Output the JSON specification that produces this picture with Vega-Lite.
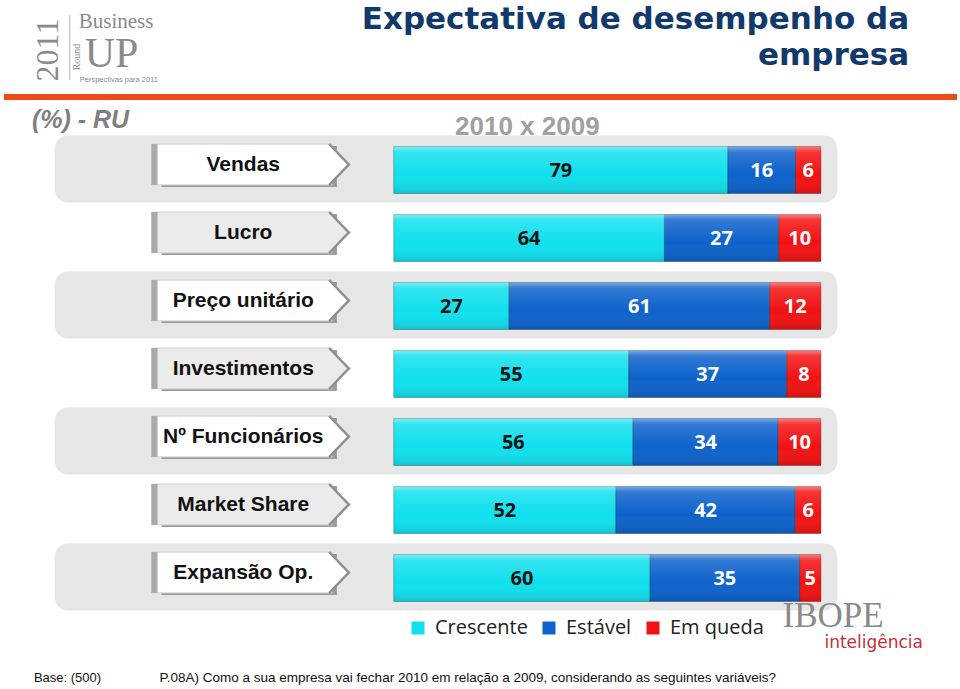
{
  "$schema": "https://vega.github.io/schema/vega-lite/v6.json",
  "width": 960,
  "height": 689,
  "autosize": {"type": "fit", "contains": "padding"},
  "padding": 0,
  "background": "white",
  "config": {"view": {"stroke": null}},
  "datasets": {
    "cats": [
      {"cat": "Vendas"}, {"cat": "Lucro"}, {"cat": "Preço unitário"}, {"cat": "Investimentos"},
      {"cat": "Nº Funcionários"}, {"cat": "Market Share"}, {"cat": "Expansão Op."}
    ],
    "vals": [
      {"cat": "Vendas", "status": "Crescente", "value": 79},
      {"cat": "Vendas", "status": "Estável", "value": 16},
      {"cat": "Vendas", "status": "Em queda", "value": 6},
      {"cat": "Lucro", "status": "Crescente", "value": 64},
      {"cat": "Lucro", "status": "Estável", "value": 27},
      {"cat": "Lucro", "status": "Em queda", "value": 10},
      {"cat": "Preço unitário", "status": "Crescente", "value": 27},
      {"cat": "Preço unitário", "status": "Estável", "value": 61},
      {"cat": "Preço unitário", "status": "Em queda", "value": 12},
      {"cat": "Investimentos", "status": "Crescente", "value": 55},
      {"cat": "Investimentos", "status": "Estável", "value": 37},
      {"cat": "Investimentos", "status": "Em queda", "value": 8},
      {"cat": "Nº Funcionários", "status": "Crescente", "value": 56},
      {"cat": "Nº Funcionários", "status": "Estável", "value": 34},
      {"cat": "Nº Funcionários", "status": "Em queda", "value": 10},
      {"cat": "Market Share", "status": "Crescente", "value": 52},
      {"cat": "Market Share", "status": "Estável", "value": 42},
      {"cat": "Market Share", "status": "Em queda", "value": 6},
      {"cat": "Expansão Op.", "status": "Crescente", "value": 60},
      {"cat": "Expansão Op.", "status": "Estável", "value": 35},
      {"cat": "Expansão Op.", "status": "Em queda", "value": 5}
    ]
  },
  "resolve": {"scale": {"y": "independent"}},
  "layer": [
    {
      "layer": [
        {
          "data": {"name": "cats"},
          "transform": [{"filter": {"field": "cat", "oneOf": ["Vendas", "Preço unitário", "Nº Funcionários", "Expansão Op."]}}],
          "mark": {"type": "bar", "cornerRadius": 13, "fill": "#e6e6e6", "height": {"band": 0.985}},
          "encoding": {
            "y": {"field": "cat", "type": "nominal", "axis": null, "scale": {"domain": ["Vendas", "Lucro", "Preço unitário", "Investimentos", "Nº Funcionários", "Market Share", "Expansão Op."], "paddingInner": 0, "paddingOuter": 0, "range": [135, 611]}},
            "x": {"datum": -0.79346, "type": "quantitative", "axis": null, "scale": {"domain": [-0.91715, 1.32322], "nice": false, "zero": false}},
            "x2": {"datum": 1.0385}
          }
        },
        {
          "data": {"name": "cats"},
          "mark": {"type": "bar", "fill": "#9c9c9c", "height": {"band": 0.6}, "yOffset": -2.5},
          "encoding": {
            "y": {"field": "cat", "type": "nominal", "axis": null},
            "x": {"datum": -0.54376, "type": "quantitative", "axis": null},
            "x2": {"datum": -0.13302}
          }
        },
        {
          "data": {"name": "cats"},
          "mark": {"type": "bar", "height": {"band": 0.6}, "yOffset": -4.5, "stroke": "#d0d0d0", "strokeWidth": 1},
          "encoding": {
            "y": {"field": "cat", "type": "nominal", "axis": null},
            "x": {"datum": -0.56709, "type": "quantitative", "axis": null},
            "x2": {"datum": -0.14469},
            "color": {"condition": {"test": "datum.cat === 'Lucro' || datum.cat === 'Investimentos' || datum.cat === 'Market Share'", "value": "#ebebeb"}, "value": "#ffffff"}
          }
        },
        {
          "data": {"name": "cats"},
          "mark": {"type": "bar", "fill": "#a9a9a9", "height": {"band": 0.6}, "yOffset": -4.5},
          "encoding": {
            "y": {"field": "cat", "type": "nominal", "axis": null},
            "x": {"datum": -0.56709, "type": "quantitative", "axis": null},
            "x2": {"datum": -0.55309}
          }
        },
        {
          "data": {"name": "cats"},
          "mark": {"type": "point", "shape": "M-0.48,-1L0.48,0L-0.48,1Z", "size": 1681, "filled": true, "opacity": 1, "strokeWidth": 0, "yOffset": -4.5},
          "encoding": {
            "y": {"field": "cat", "type": "nominal", "axis": null},
            "x": {"datum": -0.12836, "type": "quantitative", "axis": null},
            "color": {"condition": {"test": "datum.cat === 'Lucro' || datum.cat === 'Investimentos' || datum.cat === 'Market Share'", "value": "#ebebeb"}, "value": "#ffffff"}
          }
        },
        {
          "data": {"name": "cats"},
          "mark": {"type": "point", "shape": "M-0.48,-1L0.48,0L-0.48,1", "size": 1681, "filled": false, "opacity": 1, "stroke": "#8e8e8e", "strokeWidth": 2.5, "yOffset": -4.5},
          "encoding": {
            "y": {"field": "cat", "type": "nominal", "axis": null},
            "x": {"datum": -0.12836, "type": "quantitative", "axis": null}
          }
        },
        {
          "data": {"name": "cats"},
          "mark": {"type": "text", "font": "Liberation Sans", "fontWeight": "bold", "fontSize": 21, "fill": "#111111", "align": "center", "baseline": "middle", "yOffset": -4.5},
          "encoding": {
            "y": {"field": "cat", "type": "nominal", "axis": null},
            "x": {"datum": -0.35239, "type": "quantitative", "axis": null},
            "text": {"field": "cat"}
          }
        },
        {
          "data": {"name": "vals"},
          "transform": [
            {"calculate": "indexof(['Crescente','Estável','Em queda'], datum.status)", "as": "ord"},
            {"stack": "value", "groupby": ["cat"], "sort": [{"field": "ord", "order": "ascending"}], "offset": "normalize", "as": ["x0", "x1"]}
          ],
          "mark": {"type": "bar", "height": {"band": 0.69}, "yOffset": 1, "stroke": "rgba(0,0,0,0.35)", "strokeWidth": 0.8},
          "encoding": {
            "y": {"field": "cat", "type": "nominal", "axis": null},
            "x": {"field": "x0", "type": "quantitative", "axis": null},
            "x2": {"field": "x1"},
            "color": {
              "field": "status", "type": "nominal",
              "scale": {"domain": ["Crescente", "Estável", "Em queda"], "range": ["#10e0ee", "#0d62cb", "#f21212"]},
              "legend": {"orient": "none", "legendX": 406, "legendY": 618, "direction": "horizontal", "title": null, "symbolType": "square", "symbolSize": 169, "symbolStrokeWidth": 0, "symbolOpacity": 1, "labelFont": "Open Sans", "labelFontSize": 20, "labelColor": "#222222", "labelOffset": 7, "columnPadding": 11, "padding": 0}
            }
          }
        },
        {
          "data": {"name": "cats"},
          "mark": {"type": "bar", "height": {"band": 0.69}, "yOffset": 1, "fill": {"gradient": "linear", "x1": 0, "y1": 0, "x2": 0, "y2": 1, "stops": [{"offset": 0, "color": "rgba(255,255,255,0.45)"}, {"offset": 0.12, "color": "rgba(255,255,255,0.15)"}, {"offset": 0.6, "color": "rgba(255,255,255,0)"}, {"offset": 1, "color": "rgba(0,0,0,0.12)"}]}},
          "encoding": {
            "y": {"field": "cat", "type": "nominal", "axis": null},
            "x": {"datum": 0, "type": "quantitative", "axis": null},
            "x2": {"datum": 1}
          }
        },
        {
          "data": {"name": "vals"},
          "transform": [
            {"calculate": "indexof(['Crescente','Estável','Em queda'], datum.status)", "as": "ord"},
            {"stack": "value", "groupby": ["cat"], "sort": [{"field": "ord", "order": "ascending"}], "offset": "normalize", "as": ["x0", "x1"]},
            {"calculate": "(datum.x0 + datum.x1) / 2", "as": "mid"}
          ],
          "mark": {"type": "text", "font": "Open Sans", "fontWeight": "bold", "fontSize": 20, "align": "center", "baseline": "middle", "yOffset": 2},
          "encoding": {
            "y": {"field": "cat", "type": "nominal", "axis": null},
            "x": {"field": "mid", "type": "quantitative", "axis": null},
            "text": {"field": "value"},
            "color": {"condition": {"test": "datum.status === 'Crescente'", "value": "#111111"}, "value": "#ffffff"}
          }
        }
      ]
    },
    {
      "layer": [
        {
          "data": {"values": [{}]},
          "mark": {"type": "rule", "stroke": "#ee4a15", "strokeWidth": 6},
          "encoding": {
            "x": {"datum": -0.91249, "type": "quantitative", "axis": null},
            "x2": {"datum": 1.31855},
            "y": {"datum": -1.05882, "type": "quantitative", "axis": null, "scale": {"domain": [-2.4853, 7.6471], "reverse": true, "nice": false, "zero": false}}
          }
        },
        {
          "data": {"values": [{}]},
          "mark": {"type": "text", "text": ["Expectativa de desempenho da", "empresa"], "font": "DejaVu Sans", "fontWeight": "bold", "fontSize": 31, "lineHeight": 36, "fill": "#12396b", "align": "right", "baseline": "alphabetic"},
          "encoding": {
            "x": {"datum": 1.20653, "type": "quantitative", "axis": null},
            "y": {"datum": -2.05882, "type": "quantitative", "axis": null, "scale": {"domain": [-2.4853, 7.6471], "reverse": true, "nice": false, "zero": false}}
          }
        },
        {
          "data": {"values": [{}]},
          "mark": {"type": "text", "text": "(%) - RU", "font": "Liberation Sans", "fontWeight": "bold", "fontStyle": "italic", "fontSize": 25, "fill": "#7f7f7f", "align": "left", "baseline": "alphabetic"},
          "encoding": {
            "x": {"datum": -0.84714, "type": "quantitative", "axis": null},
            "y": {"datum": -0.60294, "type": "quantitative", "axis": null, "scale": {"domain": [-2.4853, 7.6471], "reverse": true, "nice": false, "zero": false}}
          }
        },
        {
          "data": {"values": [{}]},
          "mark": {"type": "text", "text": "2010 x 2009", "font": "Liberation Sans", "fontWeight": "bold", "fontSize": 26, "fill": "#a0a0a0", "align": "center", "baseline": "alphabetic"},
          "encoding": {
            "x": {"datum": 0.31272, "type": "quantitative", "axis": null},
            "y": {"datum": -0.5, "type": "quantitative", "axis": null, "scale": {"domain": [-2.4853, 7.6471], "reverse": true, "nice": false, "zero": false}}
          }
        },
        {
          "data": {"values": [{}]},
          "mark": {"type": "text", "text": "Base: (500)", "font": "Liberation Sans", "fontSize": 13, "fill": "#111111", "align": "left", "baseline": "alphabetic"},
          "encoding": {
            "x": {"datum": -0.84247, "type": "quantitative", "axis": null},
            "y": {"datum": 7.54412, "type": "quantitative", "axis": null, "scale": {"domain": [-2.4853, 7.6471], "reverse": true, "nice": false, "zero": false}}
          }
        },
        {
          "data": {"values": [{}]},
          "mark": {"type": "text", "text": "P.08A) Como a sua empresa vai fechar 2010 em relação a 2009, considerando as seguintes variáveis?", "font": "Liberation Sans", "fontSize": 13.5, "fill": "#111111", "align": "left", "baseline": "alphabetic"},
          "encoding": {
            "x": {"datum": -0.54842, "type": "quantitative", "axis": null},
            "y": {"datum": 7.54412, "type": "quantitative", "axis": null, "scale": {"domain": [-2.4853, 7.6471], "reverse": true, "nice": false, "zero": false}}
          }
        },
        {
          "data": {"values": [{}]},
          "mark": {"type": "text", "text": "2011", "font": "Liberation Serif", "fontSize": 32, "fill": "#8a8a8a", "align": "center", "baseline": "middle", "angle": 270},
          "encoding": {
            "x": {"datum": -0.8098, "type": "quantitative", "axis": null},
            "y": {"datum": -1.75, "type": "quantitative", "axis": null, "scale": {"domain": [-2.4853, 7.6471], "reverse": true, "nice": false, "zero": false}}
          }
        },
        {
          "data": {"values": [{}]},
          "mark": {"type": "rule", "stroke": "#b5b5b5", "strokeWidth": 1},
          "encoding": {
            "x": {"datum": -0.75846, "type": "quantitative", "axis": null},
            "y": {"datum": -2.26471, "type": "quantitative", "axis": null, "scale": {"domain": [-2.4853, 7.6471], "reverse": true, "nice": false, "zero": false}},
            "y2": {"datum": -1.30882}
          }
        },
        {
          "data": {"values": [{}]},
          "mark": {"type": "text", "text": "Round", "font": "Liberation Serif", "fontSize": 10, "fill": "#8a8a8a", "align": "center", "baseline": "middle", "angle": 270},
          "encoding": {
            "x": {"datum": -0.74212, "type": "quantitative", "axis": null},
            "y": {"datum": -1.64706, "type": "quantitative", "axis": null, "scale": {"domain": [-2.4853, 7.6471], "reverse": true, "nice": false, "zero": false}}
          }
        },
        {
          "data": {"values": [{}]},
          "mark": {"type": "text", "text": "Business", "font": "Liberation Serif", "fontSize": 21, "fill": "#8a8a8a", "align": "left", "baseline": "alphabetic"},
          "encoding": {
            "x": {"datum": -0.73746, "type": "quantitative", "axis": null},
            "y": {"datum": -2.07353, "type": "quantitative", "axis": null, "scale": {"domain": [-2.4853, 7.6471], "reverse": true, "nice": false, "zero": false}}
          }
        },
        {
          "data": {"values": [{}]},
          "mark": {"type": "text", "text": "UP", "font": "Liberation Serif", "fontSize": 42, "fill": "#8a8a8a", "align": "left", "baseline": "alphabetic"},
          "encoding": {
            "x": {"datum": -0.72345, "type": "quantitative", "axis": null},
            "y": {"datum": -1.5, "type": "quantitative", "axis": null, "scale": {"domain": [-2.4853, 7.6471], "reverse": true, "nice": false, "zero": false}}
          }
        },
        {
          "data": {"values": [{}]},
          "mark": {"type": "text", "text": "Perspectivas para 2011", "font": "Liberation Sans", "fontSize": 7.5, "fill": "#8a8a8a", "align": "left", "baseline": "alphabetic"},
          "encoding": {
            "x": {"datum": -0.73512, "type": "quantitative", "axis": null},
            "y": {"datum": -1.27941, "type": "quantitative", "axis": null, "scale": {"domain": [-2.4853, 7.6471], "reverse": true, "nice": false, "zero": false}}
          }
        },
        {
          "data": {"values": [{}]},
          "mark": {"type": "text", "text": "IBOPE", "font": "Liberation Serif", "fontSize": 35, "fill": "#8a8a8a", "align": "left", "baseline": "alphabetic"},
          "encoding": {
            "x": {"datum": 0.91015, "type": "quantitative", "axis": null},
            "y": {"datum": 6.73529, "type": "quantitative", "axis": null, "scale": {"domain": [-2.4853, 7.6471], "reverse": true, "nice": false, "zero": false}}
          }
        },
        {
          "data": {"values": [{}]},
          "mark": {"type": "text", "text": "inteligência", "font": "DejaVu Sans", "fontSize": 17, "fill": "#c5303a", "align": "left", "baseline": "alphabetic"},
          "encoding": {
            "x": {"datum": 1.00817, "type": "quantitative", "axis": null},
            "y": {"datum": 7.04412, "type": "quantitative", "axis": null, "scale": {"domain": [-2.4853, 7.6471], "reverse": true, "nice": false, "zero": false}}
          }
        }
      ]
    }
  ]
}
